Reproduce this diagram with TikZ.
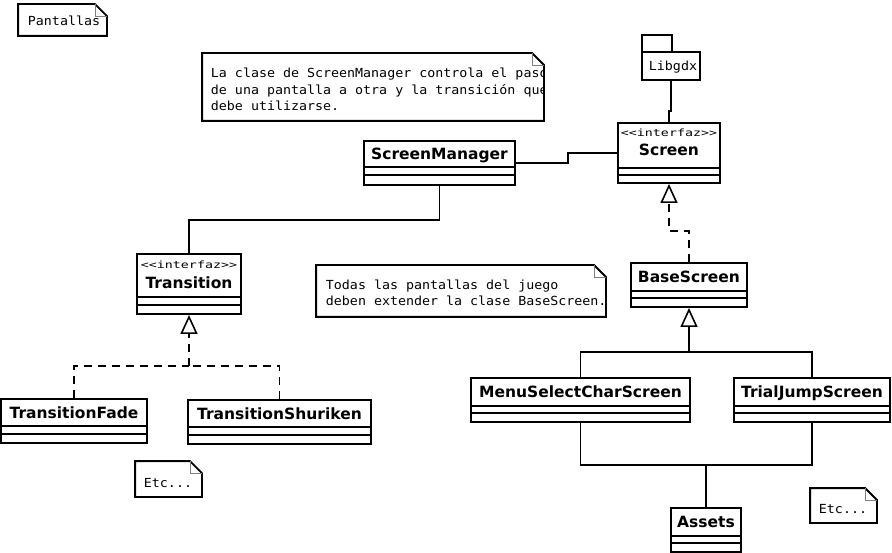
\documentclass[tikz,border=0pt]{standalone}
\usepackage{fontspec}
\setmainfont{DejaVu Sans}
\newfontfamily\umlnotefont[FakeStretch=1.065]{DejaVu Sans Mono}
\newfontfamily\umlstereofont[FakeStretch=1.33]{DejaVu Sans Mono}
\usetikzlibrary{arrows.meta}
\newcommand\umlcomps[3]{%
  \draw ([yshift=-#2pt]#1.north west) -- ([yshift=-#2pt]#1.north east);
  \draw ([yshift=-#3pt]#1.north west) -- ([yshift=-#3pt]#1.north east);}
\newcommand\umlnote[1]{%
  \draw[line width=1.9pt, fill=white] (#1.south west) -- (#1.north west) -- ([xshift=-12pt]#1.north east) -- ([yshift=-12pt]#1.north east) -- (#1.south east) -- cycle;
  \draw[line width=0.8pt, gray] ([xshift=-12pt]#1.north east) |- ([yshift=-12pt]#1.north east);}
\begin{document}
\begin{tikzpicture}[x=1pt, y=-1pt, line width=1.9pt,
  cls/.style={draw, rectangle, inner sep=0pt, fill=white},
  notebox/.style={rectangle, inner sep=0pt},
  nm/.style={anchor=base, inner sep=0pt, font=\fontsize{15.5}{18}\selectfont\bfseries},
  st/.style={anchor=base, inner sep=0pt, font=\umlstereofont\fontsize{10}{12}\selectfont},
  nt/.style={anchor=base west, inner sep=0pt, font=\umlnotefont\fontsize{12.5}{15}\selectfont},
  real/.style={dash pattern=on 8pt off 6pt},
  tri/.style={-{Triangle[fill=white, length=19pt, width=17pt, line width=1.6pt]}}
]
\useasboundingbox (0,0) rectangle (892,553);

% ---------- notes ----------
\node[notebox, minimum width=87pt, minimum height=30pt] (pant) at (62.5,20) {};
\umlnote{pant}
\node[nt] (pantt) at (27,26) {Pantallas};

\node[notebox, minimum width=340pt, minimum height=66pt] (n1) at (373,87) {};
\umlnote{n1}
\begin{scope}
  \clip (n1.south west) rectangle (n1.north east);
  \node[nt] (n1a) at (210,78) {La clase de ScreenManager controla el paso};
  \node[nt] (n1b) at (210,94.5) {de una pantalla a otra y la transición que};
  \node[nt] (n1c) at (210,111) {debe utilizarse.};
\end{scope}

\node[notebox, minimum width=288pt, minimum height=50pt] (n2) at (461,291) {};
\umlnote{n2}
\node[nt] (n2a) at (325,290) {Todas las pantallas del juego};
\node[nt] (n2b) at (325,305.5) {deben extender la clase BaseScreen.};

\node[notebox, minimum width=65pt, minimum height=34pt] (etc1) at (168.5,479) {};
\umlnote{etc1}
\node[nt] (etc1t) at (143,487) {Etc...};

\node[notebox, minimum width=65pt, minimum height=33pt] (etc2) at (843.5,505.5) {};
\umlnote{etc2}
\node[nt] (etc2t) at (818,513) {Etc...};

% ---------- package ----------
\node[cls, minimum width=30pt, minimum height=17pt] (libtab) at (657,43.5) {};
\node[cls, minimum width=58pt, minimum height=28pt] (lib) at (671,66) {};
\node[nt] (libt) at (648,71) {Libgdx};

% ---------- classes ----------
\node[cls, minimum width=151pt, minimum height=44pt] (sm) at (439.5,163) {};
\umlcomps{sm}{27}{35}
\node[nm] at ([yshift=-19.5pt]sm.north) {ScreenManager};

\node[cls, minimum width=102pt, minimum height=60pt] (scr) at (669,153) {};
\umlcomps{scr}{46}{53}
\node[st] at ([yshift=-14.5pt]scr.north) {<<interfaz>>};
\node[nm] at ([yshift=-33pt]scr.north) {Screen};

\node[cls, minimum width=104pt, minimum height=60pt] (tr) at (189,284) {};
\umlcomps{tr}{44}{52}
\node[st] at ([yshift=-15pt]tr.north) {<<interfaz>>};
\node[nm] at ([yshift=-35pt]tr.north) {Transition};

\node[cls, minimum width=116pt, minimum height=44pt] (bs) at (689,285) {};
\umlcomps{bs}{29}{36}
\node[nm] at ([yshift=-20.5pt]bs.north) {BaseScreen};

\node[cls, minimum width=219pt, minimum height=44pt] (ms) at (580.5,400) {};
\umlcomps{ms}{29}{36}
\node[nm] at ([yshift=-20.5pt]ms.north) {MenuSelectCharScreen};

\node[cls, minimum width=156pt, minimum height=44pt] (tj) at (812,400) {};
\umlcomps{tj}{29}{36}
\node[nm] at ([yshift=-20.5pt]tj.north) {TrialJumpScreen};

\node[cls, minimum width=70pt, minimum height=44pt] (assets) at (706,530) {};
\umlcomps{assets}{29}{36}
\node[nm] at ([yshift=-20.5pt]assets.north) {Assets};

\node[cls, minimum width=146pt, minimum height=44pt] (tf) at (74,421) {};
\umlcomps{tf}{28}{36}
\node[nm] at ([yshift=-20pt]tf.north) {TransitionFade};

\node[cls, minimum width=183pt, minimum height=44pt] (ts) at (279.5,422) {};
\umlcomps{ts}{28}{36}
\node[nm] at ([yshift=-20pt]ts.north) {TransitionShuriken};

% ---------- connectors ----------
\draw (lib.south) -- ++(0,30) -| (scr.north);
\draw (sm.east) -- ++(52,0) |- (scr.west);
\draw (sm.south) -- ++(0,34) -| (tr.north);

\draw[real, tri] (bs.north) -- ++(0,-31) -| (scr.south);

\path (tr.south) ++(0,51) coordinate (tjn);
\draw[real] (tf.north) |- (tjn);
\draw[real] (ts.north) |- (tjn);
\draw[real, tri] (tjn) -- (tr.south);

\path (bs.south) ++(0,44) coordinate (gjn);
\draw (ms.north) |- (gjn);
\draw (tj.north) |- (gjn);
\draw[tri] (gjn) -- (bs.south);

\draw (ms.south) -- ++(0,42) -| (assets.north);
\draw (tj.south) -- ++(0,42) -| (assets.north);
\end{tikzpicture}
\end{document}
